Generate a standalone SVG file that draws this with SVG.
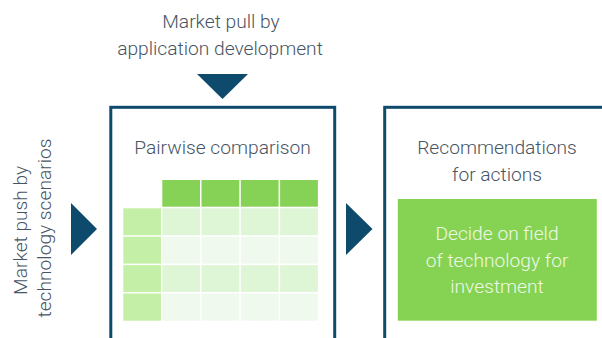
<svg xmlns="http://www.w3.org/2000/svg" width="602" height="338" viewBox="0 0 602 338">
  <defs>
    <style>
      .lbl { font-family: Roboto, "Liberation Sans", sans-serif; font-weight: 300; font-size: 19.2px; fill: #465463; text-anchor: middle; }
      .inv { font-family: Roboto, "Liberation Sans", sans-serif; font-weight: 300; font-size: 19.2px; fill: #eef8e8; text-anchor: middle; }
      .frame { fill: #ffffff; stroke: #0e4a6c; stroke-width: 3; }
      .arrow { fill: #0e4a6c; }
      .hd { fill: #86d256; }
      .rh { fill: #c3f0a6; }
      .ra { fill: #def5d6; }
      .rb { fill: #f0f9ee; }
    </style>
  </defs>
  <rect width="602" height="338" fill="#ffffff"/>

  <!-- top input label -->
  <g id="market-pull">
    <text class="lbl" x="221" y="28.3">Market pull by</text>
    <text class="lbl" x="220" y="55">application development</text>
  </g>

  <!-- left input label, rotated -->
  <g id="market-push">
    <text class="lbl" transform="translate(27,228) rotate(-90)">
      <tspan x="0" y="0">Market push by</tspan>
      <tspan x="0" y="23.5">technology scenarios</tspan>
    </text>
  </g>

  <!-- arrows -->
  <g id="connectors">
    <polygon class="arrow" points="197,74 248,74 222.5,99"/>
    <polygon class="arrow" points="71,203 97,229 71,255"/>
    <polygon class="arrow" points="346,203 372.5,229 346,255"/>
  </g>

  <!-- pairwise comparison box -->
  <g id="pairwise">
    <rect class="frame" x="110.8" y="107.3" width="223.9" height="250"/>
    <text class="lbl" x="222.5" y="153.5">Pairwise comparison</text>
    <!-- header row -->
    <rect class="hd" x="162.3" y="180" width="37.7" height="26.7"/>
    <rect class="hd" x="201.5" y="180" width="37.8" height="26.7"/>
    <rect class="hd" x="240.8" y="180" width="37.8" height="26.7"/>
    <rect class="hd" x="280.1" y="180" width="37.8" height="26.7"/>
    <!-- row headers -->
    <rect class="rh" x="123.3" y="208.3" width="37.7" height="26.9"/>
    <rect class="rh" x="123.3" y="236.7" width="37.7" height="26.9"/>
    <rect class="rh" x="123.3" y="265.1" width="37.7" height="26.9"/>
    <rect class="rh" x="123.3" y="293.5" width="37.7" height="27.2"/>
    <!-- body rows -->
    <g class="ra">
      <rect x="162.3" y="208.3" width="37.7" height="26.9"/>
      <rect x="201.5" y="208.3" width="37.8" height="26.9"/>
      <rect x="240.8" y="208.3" width="37.8" height="26.9"/>
      <rect x="280.1" y="208.3" width="37.8" height="26.9"/>
      <rect x="162.3" y="265.1" width="37.7" height="26.9"/>
      <rect x="201.5" y="265.1" width="37.8" height="26.9"/>
      <rect x="240.8" y="265.1" width="37.8" height="26.9"/>
      <rect x="280.1" y="265.1" width="37.8" height="26.9"/>
    </g>
    <g class="rb">
      <rect x="162.3" y="236.7" width="37.7" height="26.9"/>
      <rect x="201.5" y="236.7" width="37.8" height="26.9"/>
      <rect x="240.8" y="236.7" width="37.8" height="26.9"/>
      <rect x="280.1" y="236.7" width="37.8" height="26.9"/>
      <rect x="162.3" y="293.5" width="37.7" height="27.2"/>
      <rect x="201.5" y="293.5" width="37.8" height="27.2"/>
      <rect x="240.8" y="293.5" width="37.8" height="27.2"/>
      <rect x="280.1" y="293.5" width="37.8" height="27.2"/>
    </g>
  </g>

  <!-- recommendations box -->
  <g id="recommendations">
    <rect class="frame" x="384.7" y="107.3" width="260" height="250"/>
    <text class="lbl" x="497" y="154">Recommendations</text>
    <text class="lbl" x="497" y="180.5">for actions</text>
    <rect x="397.8" y="199" width="199" height="121.7" fill="#86d353"/>
    <text class="inv" x="497" y="240">Decide on field</text>
    <text class="inv" x="497" y="266.5">of technology for</text>
    <text class="inv" x="497" y="293">investment</text>
  </g>
</svg>
